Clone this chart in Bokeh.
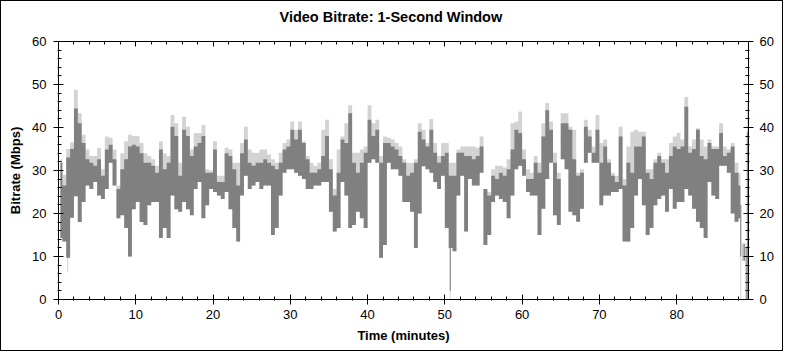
import numpy as np
from bokeh.plotting import figure
from bokeh.models import LinearAxis, FixedTicker, Range1d, CustomLabelingPolicy
from bokeh.embed import file_html
from bokeh.resources import INLINE

# ---- data (per 0.5-minute bin, starting at 0.0 min) ----
bin_width = 0.5
avg_low = [14.3, 13.5, 9.7, 19.0, 24.0, 18.0, 22.7, 26.5, 25.7, 27.3,
           24.2, 23.4, 25.7, 31.8, 26.5, 18.9, 19.6, 16.6, 10.0, 21.0,
           22.7, 18.0, 17.3, 21.9, 22.7, 22.7, 14.3, 16.6, 14.3, 24.2,
           21.0, 20.4, 22.7, 21.0, 19.6, 25.7, 27.3, 18.9, 21.9, 25.7,
           25.0, 24.2, 23.4, 25.0, 21.0, 16.6, 13.5, 24.2, 28.8, 25.7,
           26.5, 27.3, 25.7, 26.5, 26.5, 15.0, 16.6, 24.2, 29.5, 30.3,
           30.3, 29.5, 28.8, 28.0, 25.7, 25.7, 26.5, 26.5, 27.3, 27.3,
           20.4, 15.8, 16.6, 27.3, 24.2, 16.6, 17.3, 20.4, 18.9, 16.6,
           31.8, 32.6, 31.8, 9.7, 12.7, 31.8, 30.3, 30.3, 28.8, 22.7,
           22.7, 20.4, 12.0, 20.0, 31.0, 30.3, 29.5, 27.3, 25.7, 28.8,
           16.6, 12.0, 11.2, 24.2, 28.8, 15.8, 28.0, 26.5, 26.5, 29.5,
           12.7, 15.0, 22.7, 24.2, 23.4, 22.7, 18.9, 24.2, 30.3, 31.1,
           28.8, 25.0, 24.2, 24.2, 15.0, 21.1, 28.0, 31.8, 19.6, 17.3,
           32.6, 30.3, 20.4, 19.6, 18.1, 21.1, 31.8, 34.1, 31.8, 31.8,
           21.9, 24.2, 24.2, 25.0, 25.0, 25.7, 13.5, 13.5, 16.6, 24.2,
           28.0, 21.9, 15.0, 16.6, 21.9, 23.4, 24.2, 20.4, 25.7, 21.1,
           22.7, 22.7, 25.7, 24.2, 21.1, 18.1, 16.6, 14.3, 27.3, 24.2,
           23.4, 31.1, 31.1, 29.5, 20.0, 18.1, 18.9]
avg_high = [31.8, 26.5, 33.0, 35.0, 44.4, 41.0, 36.4, 32.6, 31.8, 31.1,
            32.6, 28.8, 34.9, 36.0, 32.6, 25.7, 30.3, 32.6, 35.6, 36.0,
            35.6, 34.0, 31.8, 31.8, 31.1, 29.5, 34.9, 30.3, 31.8, 40.2,
            38.0, 28.8, 39.5, 38.0, 33.4, 35.6, 36.4, 38.0, 29.5, 29.5,
            34.9, 27.3, 27.3, 34.0, 33.4, 30.3, 26.5, 34.0, 37.2, 31.8,
            31.1, 31.8, 31.8, 32.6, 31.8, 31.1, 30.3, 31.8, 34.9, 35.6,
            39.5, 37.2, 39.5, 36.4, 32.6, 29.5, 29.5, 30.3, 33.4, 38.0,
            30.3, 24.2, 29.5, 37.2, 36.4, 43.3, 31.8, 29.5, 31.8, 34.1,
            41.8, 38.0, 39.5, 31.8, 36.4, 36.4, 35.6, 34.9, 33.4, 31.8,
            28.8, 29.5, 31.8, 39.0, 37.2, 35.6, 39.5, 34.1, 31.8, 33.4,
            34.1, 28.8, 28.8, 34.1, 34.1, 33.4, 33.4, 32.6, 33.4, 35.6,
            25.7, 24.2, 28.8, 28.0, 29.5, 28.8, 30.3, 34.9, 39.5, 38.7,
            32.6, 28.0, 28.0, 31.8, 29.5, 37.9, 44.0, 39.5, 31.8, 28.0,
            41.0, 41.0, 39.5, 32.6, 28.8, 29.5, 40.2, 37.9, 34.1, 39.5,
            31.8, 35.6, 31.8, 28.8, 27.3, 37.9, 26.5, 31.8, 29.5, 35.6,
            35.6, 37.9, 29.5, 28.0, 31.8, 33.4, 31.8, 29.5, 33.4, 35.6,
            35.0, 35.6, 44.8, 34.1, 35.0, 39.5, 33.4, 32.6, 36.4, 35.0,
            35.0, 38.7, 33.4, 34.1, 35.6, 29.5, 26.5]
peak_high = [32.6, 29.0, 35.0, 36.5, 48.8, 43.3, 38.3, 34.9, 33.4, 33.4,
             35.3, 30.3, 37.9, 37.6, 34.9, 26.5, 34.0, 36.8, 38.3, 38.0,
             38.0, 36.4, 34.0, 33.4, 32.6, 31.1, 36.8, 34.0, 33.4, 42.9,
             41.0, 31.8, 42.5, 40.2, 34.9, 38.7, 38.7, 40.6, 30.3, 30.0,
             36.8, 28.8, 28.8, 35.3, 34.9, 31.8, 31.8, 36.4, 40.2, 34.9,
             34.1, 34.1, 34.9, 34.9, 33.7, 32.6, 31.8, 34.1, 36.4, 37.2,
             41.4, 39.5, 41.4, 36.8, 33.4, 31.8, 31.1, 31.8, 39.5, 41.8,
             32.6, 25.7, 34.9, 37.9, 41.0, 45.2, 34.1, 34.1, 34.9, 35.6,
             45.2, 41.0, 41.8, 33.4, 37.9, 37.6, 37.2, 36.4, 35.6, 32.6,
             31.8, 31.8, 32.6, 41.0, 39.5, 36.4, 42.0, 36.4, 33.4, 36.4,
             36.4, 31.8, 31.8, 34.9, 35.6, 35.6, 35.6, 35.6, 35.3, 37.9,
             25.7, 25.0, 30.3, 31.1, 31.1, 30.7, 32.6, 41.0, 41.4, 43.7,
             34.9, 30.3, 29.5, 33.4, 31.8, 41.0, 45.7, 41.4, 34.1, 29.5,
             43.3, 43.3, 40.2, 39.5, 29.5, 30.3, 41.8, 39.5, 35.6, 42.9,
             36.4, 37.2, 32.6, 29.5, 28.8, 40.2, 28.0, 35.6, 39.0, 39.5,
             39.0, 39.0, 30.3, 30.3, 32.6, 34.1, 32.6, 32.6, 36.4, 37.9,
             38.7, 37.2, 47.1, 35.6, 37.2, 39.8, 37.2, 35.6, 37.2, 35.6,
             35.6, 41.0, 35.6, 34.9, 36.4, 31.8, 29.5]

# narrow one-second spikes (minute, low, high)
peak_spike_t = [1.2, 50.7, 88.3, 89.15]
peak_spike_low = [6.3, 0.0, 0.0, 0.0]
peak_spike_high = [14.0, 12.0, 22.0, 46.0]
avg_spike_t = [50.7, 88.3, 88.6, 88.8, 89.0, 89.15]
avg_spike_low = [2.0, 10.0, 9.0, 9.0, 0.0, 0.0]
avg_spike_high = [12.0, 22.0, 13.0, 13.0, 12.0, 39.0]

x_ticks = [0, 10, 20, 30, 40, 50, 60, 70, 80]
y_ticks = [0, 10, 20, 30, 40, 50, 60]

DARK = "#808080"
LIGHT = "#d3d3d3"
FONT = "Liberation Sans"

n = len(avg_low)
xs = list(np.arange(n) * bin_width + bin_width / 2)

p = figure(width=783, height=351, x_range=Range1d(0, 89.3), y_range=Range1d(0, 60),
           output_backend="svg", toolbar_location=None,
           min_border_left=57, min_border_right=36, min_border_top=36, min_border_bottom=53,
           title="Video Bitrate: 1-Second Window")
p.styles = {"border": "1px solid black"}
p.background_fill_color = "white"
p.border_fill_color = "white"
p.outline_line_color = None
p.grid.visible = False

p.title.align = "left"
p.title.offset = 221
p.title.text_font = FONT
p.title.text_font_size = "14.5px"
p.title.text_font_style = "bold"
p.title.text_color = "black"

p.varea_step(x=xs, y1=avg_low, y2=peak_high, step_mode="center", fill_color=LIGHT)
p.segment(x0=peak_spike_t, y0=peak_spike_low, x1=peak_spike_t, y1=peak_spike_high,
          line_color=LIGHT, line_width=1)
p.varea_step(x=xs, y1=avg_low, y2=avg_high, step_mode="center", fill_color=DARK)
p.segment(x0=avg_spike_t, y0=avg_spike_low, x1=avg_spike_t, y1=avg_spike_high,
          line_color=DARK, line_width=1)

xt = FixedTicker(ticks=x_ticks, minor_ticks=list(range(0, 90, 2)))
yt = FixedTicker(ticks=y_ticks, minor_ticks=list(range(0, 61, 2)))

no_labels = CustomLabelingPolicy(code="""
    const r = indices.clone()
    for (let i = 0; i < indices.size; i++) r.unset(i)
    return r
""")
p.add_layout(LinearAxis(major_label_policy=no_labels), "above")
p.add_layout(LinearAxis(), "right")

for ax in p.xaxis:
    ax.ticker = xt
for ax in p.yaxis:
    ax.ticker = yt

for ax in p.axis:
    ax.axis_line_color = "black"
    ax.major_tick_line_color = "black"
    ax.minor_tick_line_color = "black"
    ax.major_tick_in = 5
    ax.major_tick_out = 5
    ax.minor_tick_in = 3
    ax.minor_tick_out = 1
    ax.major_label_text_font = FONT
    ax.major_label_text_font_size = "13px"
    ax.major_label_text_color = "black"
    ax.axis_label_text_font = FONT
    ax.axis_label_text_font_size = "13px"
    ax.axis_label_text_font_style = "bold"
    ax.axis_label_text_color = "black"

top = p.above[0]
top.major_label_standoff = 0
top.major_tick_out = 0
top.minor_tick_out = 0

p.below[0].axis_label = "Time (minutes)"
p.below[0].major_label_standoff = 5
p.below[0].axis_label_standoff = 6
p.left[0].axis_label = "Bitrate (Mbps)"
p.left[0].major_label_standoff = 7
p.left[0].axis_label_standoff = 6
p.right[0].major_label_standoff = 6

open("out.html", "w").write(file_html(p, INLINE))
